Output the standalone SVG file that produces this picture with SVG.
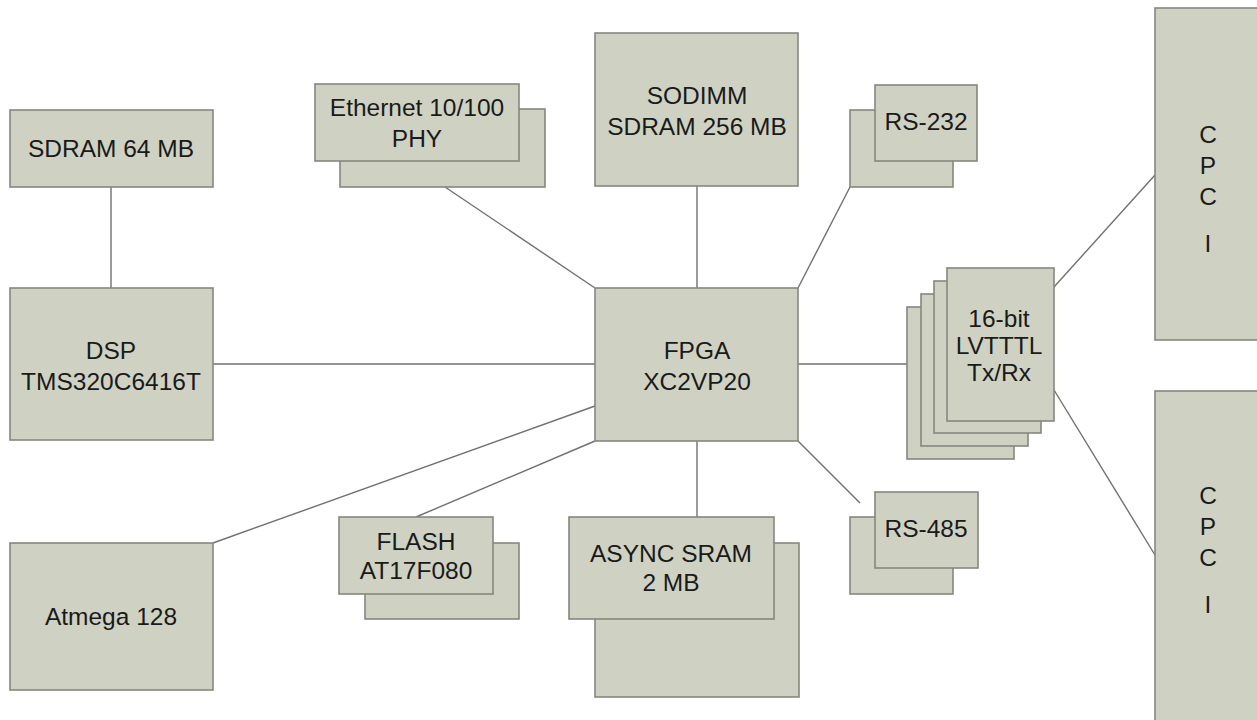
<svg xmlns="http://www.w3.org/2000/svg" width="1257" height="720" viewBox="0 0 1257 720">
<style>
.b{fill:#cfd2c3;stroke:#85877f;stroke-width:1.6}
.t{font-family:"Liberation Sans",Arial,sans-serif;font-size:24.5px;fill:#1a1a1a;text-anchor:middle}
.c line{stroke:#707070;stroke-width:1.4}
</style>
<rect width="1257" height="720" fill="#ffffff"/>
<g class="c" id="connectors">
<line x1="111" y1="187" x2="111" y2="288"/>
<line x1="213" y1="364" x2="595" y2="364"/>
<line x1="445" y1="187" x2="595" y2="288"/>
<line x1="697" y1="186" x2="697" y2="288"/>
<line x1="850" y1="187" x2="798" y2="288"/>
<line x1="798" y1="364" x2="907" y2="364"/>
<line x1="798" y1="441" x2="860" y2="503"/>
<line x1="697" y1="441" x2="697" y2="517"/>
<line x1="595" y1="406" x2="213" y2="543"/>
<line x1="595" y1="441" x2="416" y2="517"/>
<line x1="1054" y1="287" x2="1155" y2="175"/>
<line x1="1054" y1="390" x2="1155" y2="555"/>
</g>
<g id="sdram64">
<rect class="b" x="10" y="110" width="203" height="77"/>
<text class="t" x="111" y="157">SDRAM  64 MB</text>
</g>
<g id="dsp">
<rect class="b" x="10" y="288" width="203" height="152"/>
<text class="t" x="111" y="359">DSP</text>
<text class="t" x="111" y="390">TMS320C6416T</text>
</g>
<g id="atmega">
<rect class="b" x="10" y="543" width="203" height="147"/>
<text class="t" x="111" y="625">Atmega 128</text>
</g>
<g id="ethernet">
<rect class="b" x="340" y="109" width="205" height="78"/>
<rect class="b" x="315" y="84" width="204" height="77"/>
<text class="t" x="417" y="116">Ethernet  10/100</text>
<text class="t" x="417" y="147">PHY</text>
</g>
<g id="sodimm">
<rect class="b" x="595" y="33" width="203" height="153"/>
<text class="t" x="697" y="104">SODIMM</text>
<text class="t" x="697" y="135">SDRAM  256 MB</text>
</g>
<g id="rs232">
<rect class="b" x="850" y="110" width="103" height="77"/>
<rect class="b" x="875" y="85" width="102" height="76"/>
<text class="t" x="926" y="130">RS-232</text>
</g>
<g id="fpga">
<rect class="b" x="595" y="288" width="203" height="153"/>
<text class="t" x="697" y="359">FPGA</text>
<text class="t" x="697" y="390">XC2VP20</text>
</g>
<g id="lvttl">
<rect class="b" x="907" y="307" width="107" height="152"/>
<rect class="b" x="921" y="294" width="107" height="152"/>
<rect class="b" x="934" y="281" width="107" height="152"/>
<rect class="b" x="947" y="268" width="107" height="153"/>
<text class="t" x="999" y="327">16-bit</text>
<text class="t" x="999" y="354">LVTTTL</text>
<text class="t" x="999" y="381">Tx/Rx</text>
</g>
<g id="flash">
<rect class="b" x="365" y="543" width="154" height="76"/>
<rect class="b" x="339" y="517" width="154" height="77"/>
<text class="t" x="416" y="550">FLASH</text>
<text class="t" x="416" y="579">AT17F080</text>
</g>
<g id="sram">
<rect class="b" x="595" y="543" width="204" height="154"/>
<rect class="b" x="569" y="517" width="205" height="102"/>
<text class="t" x="671" y="562">ASYNC SRAM</text>
<text class="t" x="671" y="591">2 MB</text>
</g>
<g id="rs485">
<rect class="b" x="850" y="517" width="103" height="77"/>
<rect class="b" x="875" y="492" width="103" height="76"/>
<text class="t" x="926" y="537">RS-485</text>
</g>
<g id="cpci1">
<rect class="b" x="1155" y="8" width="110" height="332"/>
<text class="t" x="1208" y="143">C</text>
<text class="t" x="1208" y="174">P</text>
<text class="t" x="1208" y="205">C</text>
<text class="t" x="1208" y="252">I</text>
</g>
<g id="cpci2">
<rect class="b" x="1155" y="391" width="110" height="340"/>
<text class="t" x="1208" y="504">C</text>
<text class="t" x="1208" y="535">P</text>
<text class="t" x="1208" y="566">C</text>
<text class="t" x="1208" y="613">I</text>
</g>
</svg>
